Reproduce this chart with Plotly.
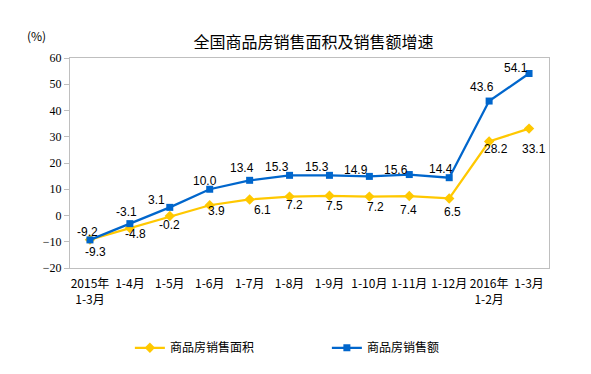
import plotly.graph_objects as go

categories = ["2015年<br>1-3月", "1-4月", "1-5月", "1-6月", "1-7月", "1-8月", "1-9月",
              "1-10月", "1-11月", "1-12月", "2016年<br>1-2月", "1-3月"]
area_growth = [-9.2, -4.8, -0.2, 3.9, 6.1, 7.2, 7.5, 7.2, 7.4, 6.5, 28.2, 33.1]
sales_growth = [-9.3, -3.1, 3.1, 10.0, 13.4, 15.3, 15.3, 14.9, 15.6, 14.4, 43.6, 54.1]
area_name = "商品房销售面积"
sales_name = "商品房销售额"
y_ticks = [-20, -10, 0, 10, 20, 30, 40, 50, 60]

# label offsets in pixels (style only): (dx, dy) with dy positive = up
area_label_dx = [-2, 6, 0, 7, 13, 5, 5, 6, -1, 3, 7, 5]
area_label_dy = [8, -6, -9, -6, -11, -8, -10, -10, -14, -14, -8, -20]
sales_label_dx = [6, -3, -13, -5, -8, -13, -12, -13, -13, -8, -7, -13]
sales_label_dy = [-12, 12, 7, 8, 12, 8, 8, 6, 5, 9, 14, 5]

YELLOW = "#FFC800"
BLUE = "#0066CC"
GRID = "#BFBFBF"
CJK = "Noto Sans CJK SC"
LABEL_FONT = dict(family="Liberation Sans, Arial", size=12, color="#000000")

# the page body has an 8px margin, so the figure is sized to fit the window
W, H = 583, 366
OFF = 8
L, T, R, B = 62, 50, 42, 106
PW, PH = W - L - R, H - T - B

fig = go.Figure()
fig.add_trace(go.Scatter(
    x=categories, y=area_growth, name=area_name, mode="lines+markers",
    line=dict(color=YELLOW, width=2.25),
    marker=dict(symbol="diamond", size=8, color=YELLOW),
))
fig.add_trace(go.Scatter(
    x=categories, y=sales_growth, name=sales_name, mode="lines+markers",
    line=dict(color=BLUE, width=2.25),
    marker=dict(symbol="square", size=7, color=BLUE),
))

annotations = []
for cat, v, dx, dy in zip(categories, area_growth, area_label_dx, area_label_dy):
    annotations.append(dict(x=cat, y=v, xref="x", yref="y", text=f"{v:.1f}", showarrow=False,
                            xanchor="center", yanchor="middle", xshift=dx, yshift=dy,
                            font=LABEL_FONT))
for cat, v, dx, dy in zip(categories, sales_growth, sales_label_dx, sales_label_dy):
    annotations.append(dict(x=cat, y=v, xref="x", yref="y", text=f"{v:.1f}", showarrow=False,
                            xanchor="center", yanchor="middle", xshift=dx, yshift=dy,
                            font=LABEL_FONT))
annotations.append(dict(text="(%)", xref="paper", yref="paper",
                        x=(36 - OFF - L) / PW, y=1 + 22 / PH,
                        xanchor="center", yanchor="middle", showarrow=False,
                        font=dict(family=CJK, size=12, color="#000000")))

n = len(categories)
fig.update_layout(
    width=W, height=H,
    margin=dict(l=L, r=R, t=T, b=B, autoexpand=False),
    paper_bgcolor="white", plot_bgcolor="white",
    title=dict(text="全国商品房销售面积及销售额增速",
               x=(313.5 - OFF) / W, xanchor="center",
               y=1 - (42 - OFF) / H, yanchor="middle",
               font=dict(family=CJK, size=16, color="#000000")),
    showlegend=True,
    legend=dict(orientation="h", x=0.125, xanchor="left", y=-0.38, yanchor="middle",
                entrywidth=152, entrywidthmode="pixels",
                font=dict(family=CJK, size=12, color="#000000"),
                itemwidth=30),
    xaxis=dict(type="category", categoryorder="array", categoryarray=categories,
               range=[-0.5, n - 0.5], showline=True, linecolor=GRID, linewidth=1,
               mirror=True, ticks="", showgrid=False, zeroline=False,
               ticklabelstandoff=5,
               tickfont=dict(family=CJK, size=12, color="#000000")),
    xaxis2=dict(overlaying="x", anchor="free", position=0.25, type="linear",
                range=[-0.5, n - 0.5], showline=True, linecolor=GRID, linewidth=1,
                ticks="inside", ticklen=4, tickcolor=GRID,
                tickmode="array", tickvals=[i + 0.5 for i in range(n - 1)],
                showticklabels=False, showgrid=False, zeroline=False),
    yaxis=dict(range=[-20, 60], tickmode="array", tickvals=y_ticks,
               showline=True, linecolor=GRID, linewidth=1, mirror=True,
               ticks="outside", ticklen=5, tickcolor=GRID,
               showgrid=False, zeroline=False,
               tickfont=dict(family="Liberation Serif, Times New Roman", size=12, color="#000000")),
    annotations=annotations,
)

fig.write_html("out.html")
